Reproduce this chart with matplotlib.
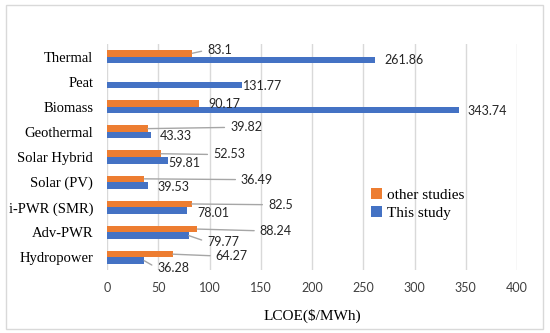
import matplotlib.pyplot as plt
import numpy as np
from matplotlib.patches import Rectangle

# bottom-to-top order, as drawn on the y axis
categories = ["Hydropower", "Adv-PWR", "i-PWR (SMR)", "Solar (PV)", "Solar Hybrid",
              "Geothermal", "Biomass", "Peat", "Thermal"]
other_studies = [64.27, 88.24, 82.5, 36.49, 52.53, 39.82, 90.17, np.nan, 83.1]
this_study = [36.28, 79.77, 78.01, 39.53, 59.81, 43.33, 343.74, 131.77, 261.86]
x_ticks = [0, 50, 100, 150, 200, 250, 300, 350, 400]

# where Excel put the (dragged) data labels, in data coords; leader = draw callout line
other_label_pos = [(106, 0.06, True), (149, 1.06, True), (157, 2.1, True), (130.7, 3.1, True),
                   (103.4, 4.1, True), (120, 5.18, True), (98.5, 6.1, False), None,
                   (97.6, 8.26, True)]
this_label_pos = [(48.8, -0.42, True), (97.6, 0.62, True), (87.8, 1.78, False), (48.8, 2.82, False),
                  (59.5, 3.78, False), (51.7, 4.82, False), (352, 5.82, False), (132.7, 6.82, False),
                  (271, 7.86, False)]

ORANGE = "#ed7d31"
BLUE = "#4472c4"
SERIF = "Liberation Serif"
SANS = "Lato"

fig = plt.figure(figsize=(5.5, 3.33), dpi=100)
ax = fig.add_axes([107 / 550, 1 - 270 / 333, 410 / 550, 226 / 333])

y = np.arange(len(categories))
h = 0.26
bars_other = ax.barh(y + h / 2, other_studies, h, color=ORANGE, label="other studies", zorder=3)
bars_this = ax.barh(y - h / 2, this_study, h, color=BLUE, label="This study", zorder=3)


def add_labels(values, positions, offset):
    for i, (val, pos) in enumerate(zip(values, positions)):
        if pos is None or np.isnan(val):
            continue
        tx, ty, leader = pos
        label = f"{val:g}"
        if leader:
            ax.annotate(label, xy=(val, i + offset), xytext=(tx, ty), textcoords="data",
                        ha="left", va="center", fontsize=9, family=SANS, color="#262626",
                        arrowprops=dict(arrowstyle="-", color="#a6a6a6", lw=1,
                                        relpos=(0, 0.5), shrinkA=2, shrinkB=0))
        else:
            ax.text(tx, ty, label, ha="left", va="center", fontsize=9, family=SANS,
                    color="#262626", zorder=4)


add_labels(other_studies, other_label_pos, h / 2)
add_labels(this_study, this_label_pos, -h / 2)

ax.set_xlim(0, 400)
ax.set_ylim(-0.5, len(categories) - 0.5)
ax.set_xticks(x_ticks)
ax.set_yticks(y)
ax.set_yticklabels(categories, family=SERIF, fontsize=10.5)
for lbl in ax.get_xticklabels():
    lbl.set_family(SANS)
    lbl.set_fontsize(9)
    lbl.set_color("#404040")
ax.tick_params(axis="both", length=0)
ax.tick_params(axis="x", pad=9)
ax.tick_params(axis="y", pad=10)
ax.grid(axis="x", color="#d9d9d9", lw=1, zorder=0)
for s in ax.spines.values():
    s.set_visible(False)
ax.set_xlabel("LCOE($/MWh)", family=SERIF, fontsize=11, labelpad=10)

ax.legend(handles=[bars_other, bars_this], loc="upper left", bbox_to_anchor=(0.63, 0.39),
          frameon=False, prop={"family": SERIF, "size": 11}, handlelength=0.7,
          handleheight=0.7, handletextpad=0.3, labelspacing=0.3, borderaxespad=0)

fig.patches.append(Rectangle((6 / 550, 1 - 329 / 333), 537 / 550, 324 / 333,
                             transform=fig.transFigure, fill=False, edgecolor="#d9d9d9", lw=1))

fig.savefig("out.png", dpi=100)
